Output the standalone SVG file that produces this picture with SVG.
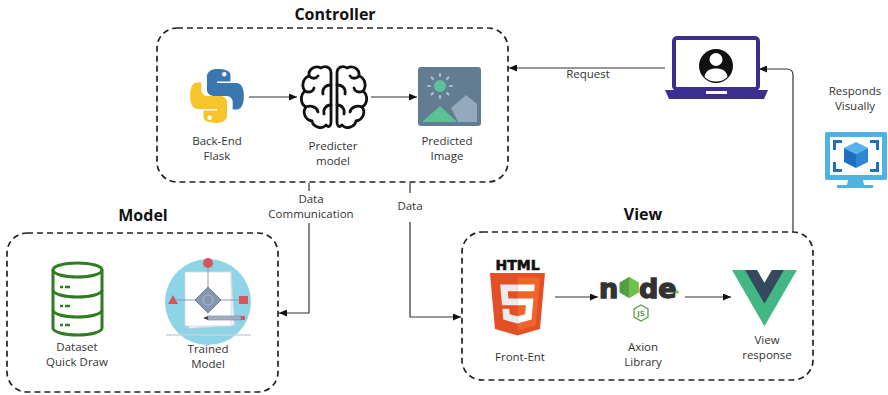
<svg xmlns="http://www.w3.org/2000/svg" width="888" height="395" viewBox="0 0 888 395">
  <style>
    .frame { fill: none; stroke: #222; stroke-width: 1.7; stroke-dasharray: 6 4; }
    .title { font-family: "Open Sans", "Liberation Sans", sans-serif; font-size: 16px; font-weight: 700; fill: #111; text-anchor: middle; }
    .lbl { font-family: "Open Sans", "Liberation Sans", sans-serif; font-size: 11.5px; fill: #333; text-anchor: middle; }
    .wire { fill: none; stroke: #333; stroke-width: 1.2; }
    .brain { fill: none; stroke: #111; stroke-width: 2.8; stroke-linejoin: round; stroke-linecap: round; }
  </style>
  <defs>
    <marker id="arrow" markerUnits="userSpaceOnUse" markerWidth="8" markerHeight="7" refX="8" refY="3.5" orient="auto">
      <path d="M0,0 L8,3.5 L0,7 Z" fill="#111"/>
    </marker>
    <g id="brain-half">
      <path class="brain" d="M -3,-24 C -3,-30 -9,-32 -13,-29 C -19,-32 -26,-28 -25,-21 C -31,-19 -33,-11 -29,-6 C -34,-2 -34,7 -28,10 C -32,15 -29,23 -22,24 C -21,30 -12,33 -8,28 C -5,31 -3,29 -3,25 Z"/>
      <path class="brain" d="M -3,-12 C -9,-12 -12,-8 -11,-3 M -25,-21 C -22,-18 -18,-18 -16,-21 M -29,-6 C -25,-4 -21,-5 -20,-9 M -28,10 C -23,8 -17,10 -16,15 M -3,8 C -8,8 -11,12 -10,17"/>
    </g>
  </defs>

  <rect width="888" height="395" fill="#fff"/>

  <!-- Controller group -->
  <g id="controller">
    <rect class="frame" x="157" y="28" width="351" height="154" rx="20"/>
    <text class="title" x="335" y="20">Controller</text>
  </g>

  <g id="backend-flask">
    <g transform="translate(245,68) scale(-0.56,0.56)">
      <path fill="#3a76b0" d="M49,2 C24,2 26,13 26,13 L26,24 L50,24 L50,27 L16,27 C16,27 2,25 2,50 C2,75 14,74 14,74 L22,74 L22,62 C22,62 21,50 34,50 L56,50 C56,50 68,50 68,38 L68,17 C68,17 70,2 49,2 Z"/>
      <circle cx="37" cy="11" r="4" fill="#fff"/>
      <path fill="#f6c52c" d="M51,98 C76,98 74,87 74,87 L74,76 L50,76 L50,73 L84,73 C84,73 98,75 98,50 C98,25 86,26 86,26 L78,26 L78,38 C78,38 79,50 66,50 L44,50 C44,50 32,50 32,62 L32,83 C32,83 30,98 51,98 Z"/>
      <circle cx="63" cy="89" r="4" fill="#fff"/>
    </g>
    <text class="lbl" x="217" y="145">Back-End</text>
    <text class="lbl" x="217" y="160">Flask</text>
  </g>

  <g id="predicter-model">
    <g transform="translate(334,97)">
      <use href="#brain-half"/>
      <use href="#brain-half" transform="scale(-1,1)"/>
    </g>
    <text class="lbl" x="333" y="150">Predicter</text>
    <text class="lbl" x="333" y="165">model</text>
  </g>

  <g id="predicted-image">
    <rect x="418" y="67" width="63" height="59" rx="3" fill="#627d92"/>
    <circle cx="440" cy="86" r="6" fill="#5cc196"/>
    <g stroke="#a9bccb" stroke-width="2.2" stroke-linecap="round">
      <line x1="440" y1="74" x2="440" y2="76"/>
      <line x1="440" y1="96" x2="440" y2="98"/>
      <line x1="428" y1="86" x2="430" y2="86"/>
      <line x1="450" y1="86" x2="452" y2="86"/>
      <line x1="431.5" y1="77.5" x2="433" y2="79"/>
      <line x1="447" y1="93" x2="448.5" y2="94.5"/>
      <line x1="448.5" y1="77.5" x2="447" y2="79"/>
      <line x1="433" y1="93" x2="431.5" y2="94.5"/>
    </g>
    <polygon points="451,108 466,95 477,104 477,122 458,122" fill="#93a9bc"/>
    <polygon points="422,122 440,106 457,122" fill="#5cc196"/>
    <text class="lbl" x="447" y="145">Predicted</text>
    <text class="lbl" x="447" y="160">Image</text>
  </g>

  <!-- Client laptop -->
  <g id="client">
    <rect x="674" y="38" width="84" height="51" rx="3" fill="#fff" stroke="#3c2e91" stroke-width="4"/>
    <path d="M665,90 H768 L764,99 H669 Z" fill="#3c2e91"/>
    <rect x="706" y="91" width="21" height="3" fill="#fff"/>
    <circle cx="716" cy="66" r="17" fill="#111"/>
    <circle cx="716" cy="59.5" r="6.5" fill="#fff"/>
    <path d="M704.5,77 C705.5,70.5 710,68.5 716,68.5 C722,68.5 726.5,70.5 727.5,77 C724.5,80 720.5,81.5 716,81.5 C711.5,81.5 707.5,80 704.5,77 Z" fill="#fff"/>
  </g>

  <g id="responds-visually">
    <text class="lbl" x="855" y="95">Responds</text>
    <text class="lbl" x="855" y="110">Visually</text>
    <rect x="825" y="132" width="62" height="48" rx="2" fill="#4fb2e2"/>
    <rect x="830" y="137" width="52" height="38" fill="#fff"/>
    <path d="M848,180 H863 L864,185 H873 V188 H837 V185 H847 Z" fill="#4fb2e2"/>
    <g fill="none" stroke="#1f6fbf" stroke-width="3">
      <path d="M834.5,150 V141.5 H842"/>
      <path d="M870,141.5 H877.5 V150"/>
      <path d="M834.5,162 V170.5 H842"/>
      <path d="M870,170.5 H877.5 V162"/>
    </g>
    <polygon points="856,142 868,148 856,154 844,148" fill="#58b1ef"/>
    <polygon points="844,148 856,154 856,168 844,162" fill="#1f6fbf"/>
    <polygon points="856,154 868,148 868,162 856,168" fill="#2f86d6"/>
  </g>

  <!-- Model group -->
  <g id="model">
    <rect class="frame" x="7" y="233" width="271" height="159" rx="20"/>
    <text class="title" x="143" y="221">Model</text>
  </g>

  <g id="dataset">
    <g fill="none" stroke="#2f7d1f" stroke-width="3">
      <ellipse cx="77.5" cy="270" rx="24.5" ry="7"/>
      <path d="M53,270 V328 A24.5,7 0 0 0 102,328 V270"/>
      <path d="M53,290 A24.5,7 0 0 0 102,290"/>
      <path d="M53,310 A24.5,7 0 0 0 102,310"/>
    </g>
    <g stroke="#2f7d1f" stroke-width="2.4">
      <path d="M60,287 H63 M65,287 H70"/>
      <path d="M60,306 H63 M65,306 H70"/>
      <path d="M60,325 H63 M65,325 H70"/>
    </g>
    <text class="lbl" x="77" y="351">Dataset</text>
    <text class="lbl" x="77" y="366">Quick Draw</text>
  </g>

  <g id="trained-model">
    <circle cx="208" cy="302" r="43" fill="#8dd4e7"/>
    <line x1="166" y1="335" x2="251" y2="335" stroke="#c9d3d8" stroke-width="1.5"/>
    <rect x="187" y="273" width="46" height="54" fill="#eef0f3" stroke="#c8ccd3" stroke-width="0.8" transform="rotate(-4 210 300)"/>
    <rect x="185" y="272" width="46" height="54" fill="#fff" stroke="#d5d8dd" stroke-width="0.8"/>
    <line x1="208" y1="268" x2="208" y2="287" stroke="#8a9fb4" stroke-width="1"/>
    <line x1="174" y1="300" x2="242" y2="300" stroke="#7aa0bc" stroke-width="1"/>
    <circle cx="208" cy="263" r="5" fill="#d9545a"/>
    <polygon points="168,304 178,304 173,295" fill="#d9545a"/>
    <rect x="239" y="296" width="9" height="8" fill="#d9545a"/>
    <polygon points="208,287 221,300 208,313 195,300" fill="#8497ad" stroke="#6f8299" stroke-width="1"/>
    <circle cx="208" cy="300" r="5" fill="none" stroke="#a9bccf" stroke-width="1"/>
    <polygon points="203,318 208,316 208,320" fill="#333"/>
    <rect x="208" y="316" width="33" height="4" fill="#9fb0c2" stroke="#6f8299" stroke-width="0.6"/>
    <rect x="241" y="316" width="4" height="4" fill="#d9545a"/>
    <text class="lbl" x="208" y="353">Trained</text>
    <text class="lbl" x="208" y="368">Model</text>
  </g>

  <!-- View group -->
  <g id="view">
    <rect class="frame" x="462" y="232" width="351" height="148" rx="20"/>
    <text class="title" x="643" y="220">View</text>
  </g>

  <g id="front-end">
    <text x="517.5" y="270" text-anchor="middle" font-family="'DejaVu Sans', 'Liberation Sans', sans-serif" font-weight="700" font-size="14" fill="#111" stroke="#111" stroke-width="0.6">HTML</text>
    <g transform="translate(486.3,273) scale(0.122)">
      <path fill="#e34f26" d="M71,460 L30,0 481,0 440,460 255,512 Z"/>
      <path fill="#ef652a" d="M256,472 L405,431 440,37 256,37 Z"/>
      <path fill="#ebebeb" d="M256,208 L181,208 176,150 256,150 256,94 114,94 115,109 129,265 256,265 Z"/>
      <path fill="#ebebeb" d="M256,355 L192,338 188,293 132,293 139,382 256,414 Z"/>
      <path fill="#fff" d="M255,208 L255,265 325,265 318,338 255,355 255,414 371,382 385,223 387,208 Z"/>
      <path fill="#fff" d="M255,94 L255,150 392,150 396,109 397,94 Z"/>
    </g>
    <text class="lbl" x="520" y="361">Front-Ent</text>
  </g>

  <g id="axion-library">
    <g font-family="'DejaVu Sans', 'Liberation Sans', sans-serif" font-weight="700" font-size="27" fill="#333" stroke="#333" stroke-width="1.4">
      <text x="599" y="298">n</text>
      <text x="639" y="298">de</text>
    </g>
    <polygon points="629,277 638.5,282.5 638.5,292.5 629,298 619.5,292.5 619.5,282.5" fill="#539e43"/>
    <polygon points="629,277 638.5,282.5 638.5,292.5 629,298" fill="#6cc24a"/>
    <circle cx="677" cy="292" r="1.7" fill="#6cc24a"/>
    <polygon points="641,305 648,309 648,317 641,321 634,317 634,309" fill="none" stroke="#5fa04e" stroke-width="1.3"/>
    <text x="641" y="316" text-anchor="middle" font-family="'DejaVu Sans', sans-serif" font-size="7" font-weight="700" fill="#5fa04e">JS</text>
    <text class="lbl" x="643" y="351">Axion</text>
    <text class="lbl" x="643" y="366">Library</text>
  </g>

  <g id="view-response">
    <g transform="translate(732,270) scale(0.248)">
      <path fill="#41b883" d="M161.096,0 L130.871,52.351 L100.647,0 H0 L130.872,226.688 L261.749,0 Z"/>
      <path fill="#34495e" d="M161.096,0 L130.871,52.351 L100.647,0 H52.346 L130.872,136.01 L209.398,0 Z"/>
    </g>
    <text class="lbl" x="767" y="344">View</text>
    <text class="lbl" x="767" y="359">response</text>
  </g>

  <!-- Connectors -->
  <g id="connectors">
    <path class="wire" d="M249,97 H297" marker-end="url(#arrow)"/>
    <path class="wire" d="M371,97 H417" marker-end="url(#arrow)"/>
    <path class="wire" d="M665,68 H509" marker-end="url(#arrow)"/>
    <path class="wire" d="M793,232 V75 Q793,69 787,69 H759" marker-end="url(#arrow)"/>
    <path class="wire" d="M309,183 V191"/>
    <path class="wire" d="M309,223 V313 H279" marker-end="url(#arrow)"/>
    <path class="wire" d="M410,183 V193"/>
    <path class="wire" d="M410,222 V317 H461" marker-end="url(#arrow)"/>
    <path class="wire" d="M555,297 H598" marker-end="url(#arrow)"/>
    <path class="wire" d="M685,297 H731" marker-end="url(#arrow)"/>
    <text class="lbl" x="311" y="203">Data</text>
    <text class="lbl" x="311" y="218">Communication</text>
    <text class="lbl" x="410" y="210">Data</text>
    <text class="lbl" x="588" y="78">Request</text>
  </g>
</svg>
